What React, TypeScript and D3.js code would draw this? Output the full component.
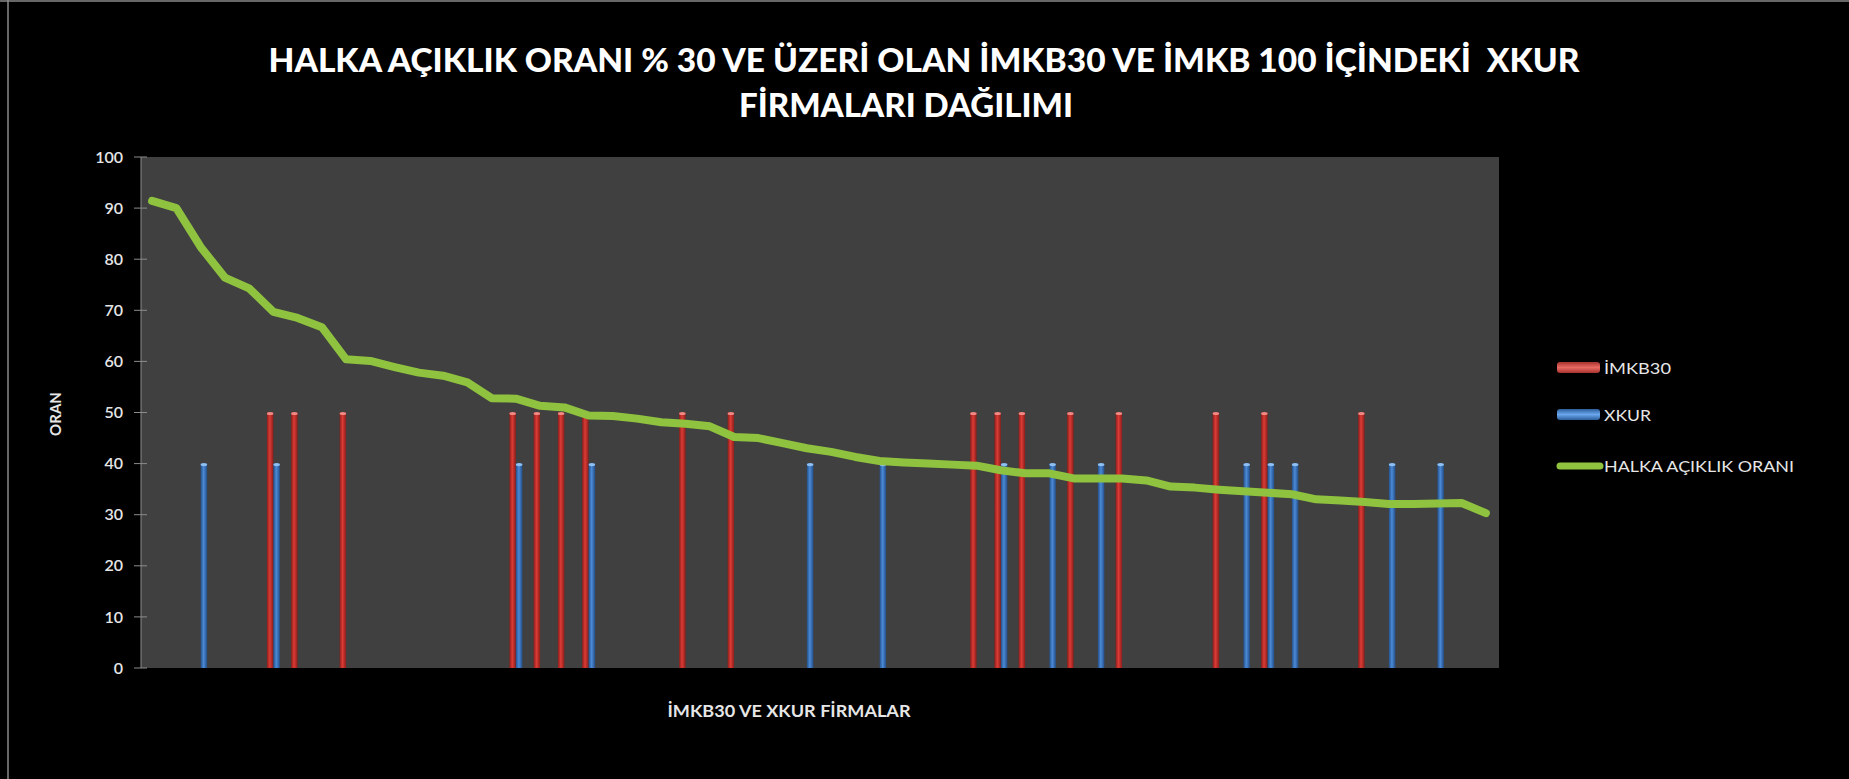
import * as d3 from "d3";

// categories (firms are unlabeled in the original chart)
const firms = d3.range(56).map(i => `F${i + 1}`);

// İMKB30 membership bars (50 = member)
const imkb30 = [
  0, 0, 0, 0, 0, 50, 50, 0, 50, 0,
  0, 0, 0, 0, 0, 50, 50, 50, 50, 0,
  0, 0, 50, 0, 50, 0, 0, 0, 0, 0,
  0, 0, 0, 0, 50, 50, 50, 0, 50, 0,
  50, 0, 0, 0, 50, 0, 50, 0, 0, 0,
  50, 0, 0, 0, 0, 0,
];

// XKUR membership bars (40 = member)
const xkur = [
  0, 0, 40, 0, 0, 40, 0, 0, 0, 0,
  0, 0, 0, 0, 0, 40, 0, 0, 40, 0,
  0, 0, 0, 0, 0, 0, 0, 40, 0, 0,
  40, 0, 0, 0, 0, 40, 0, 40, 0, 40,
  0, 0, 0, 0, 0, 40, 40, 40, 0, 0,
  0, 40, 0, 40, 0, 0,
];

// free float ratio (line)
const halkaAciklik = [
  91.4, 90.0, 82.4, 76.4, 74.3, 69.7, 68.5, 66.7, 60.4, 60.1,
  58.9, 57.8, 57.2, 55.9, 52.8, 52.7, 51.3, 51.0, 49.4, 49.3,
  48.8, 48.1, 47.8, 47.3, 45.2, 45.0, 44.0, 43.0, 42.3, 41.3,
  40.5, 40.2, 40.0, 39.8, 39.6, 38.7, 38.1, 38.1, 37.1, 37.1,
  37.1, 36.7, 35.5, 35.3, 34.9, 34.6, 34.3, 34.0, 33.0, 32.8,
  32.5, 32.1, 32.1, 32.2, 32.3, 30.3,
];

const yTicks = [0, 10, 20, 30, 40, 50, 60, 70, 80, 90, 100];
const seriesKeys = ["imkb30", "xkur"];
const legendLabels = ["İMKB30", "XKUR", "HALKA AÇIKLIK ORANI"];

const W = 1849;
const H = 779;
const FONT = "Lato, 'Open Sans', sans-serif";

export default function App() {
  const plot = { left: 141, right: 1499, top: 157, bottom: 668 };

  const x = d3.scaleBand<string>().domain(firms).range([plot.left - 1, plot.right - 1]).padding(0);
  const xInner = d3.scaleBand<string>().domain(seriesKeys).range([-6.5, 6.5]).padding(0);
  const y = d3.scaleLinear().domain([0, 100]).range([plot.bottom, plot.top]);

  const cx = (i: number) => (x(firms[i]) as number) + x.bandwidth() / 2;

  const line = d3
    .line<number>()
    .x((_, i) => cx(i))
    .y(d => y(d));

  const bars = (vals: number[], key: string, grad: string, cap: string) =>
    vals.map((v, i) => {
      if (!v) return null;
      const bx = cx(i) + (xInner(key) as number);
      const bw = xInner.bandwidth();
      return (
        <g key={`${key}-${i}`}>
          <rect x={bx} y={y(v)} width={bw} height={y(0) - y(v)} fill={`url(#${grad})`} />
          <ellipse cx={bx + bw / 2} cy={y(v) + 1} rx={bw / 2} ry={1.6} fill={cap} />
        </g>
      );
    });

  return (
    <svg
      width={W}
      height={H}
      style={{ position: "absolute", left: 0, top: 0, background: "#000" }}
    >
      <defs>
        <linearGradient id="redGrad" x1="0" x2="1" y1="0" y2="0">
          <stop offset="0" stopColor="#8a1e1b" />
          <stop offset="0.45" stopColor="#dc3b35" />
          <stop offset="1" stopColor="#8a1e1b" />
        </linearGradient>
        <linearGradient id="blueGrad" x1="0" x2="1" y1="0" y2="0">
          <stop offset="0" stopColor="#244f8a" />
          <stop offset="0.45" stopColor="#4b8ad6" />
          <stop offset="1" stopColor="#244f8a" />
        </linearGradient>
        <linearGradient id="redLeg" x1="0" x2="0" y1="0" y2="1">
          <stop offset="0" stopColor="#a8322e" />
          <stop offset="0.5" stopColor="#e86a62" />
          <stop offset="1" stopColor="#a8322e" />
        </linearGradient>
        <linearGradient id="blueLeg" x1="0" x2="0" y1="0" y2="1">
          <stop offset="0" stopColor="#2c5e9c" />
          <stop offset="0.5" stopColor="#6aa6ec" />
          <stop offset="1" stopColor="#2c5e9c" />
        </linearGradient>
      </defs>

      <rect x={0} y={0} width={W} height={H} fill="#000" />
      <line x1={8} x2={8} y1={0} y2={H} stroke="#8a8a8a" strokeWidth={1.5} />
      <line x1={0} x2={W} y1={1} y2={1} stroke="#8a8a8a" strokeWidth={1.5} />

      {/* title */}
      <text
        x={924}
        y={72}
        textAnchor="middle"
        fill="#fff"
        fontFamily={FONT}
        fontWeight="900"
        fontSize={33}
        textLength={1311}
        lengthAdjust="spacingAndGlyphs"
        style={{ whiteSpace: "pre" }}
      >
        {"HALKA AÇIKLIK ORANI % 30 VE ÜZERİ OLAN İMKB30 VE İMKB 100 İÇİNDEKİ  XKUR"}
      </text>
      <text
        x={906}
        y={117}
        textAnchor="middle"
        fill="#fff"
        fontFamily={FONT}
        fontWeight="900"
        fontSize={33}
        textLength={334}
        lengthAdjust="spacingAndGlyphs"
      >
        FİRMALARI DAĞILIMI
      </text>

      {/* plot area */}
      <rect
        x={plot.left}
        y={plot.top}
        width={plot.right - plot.left}
        height={plot.bottom - plot.top}
        fill="#404040"
      />
      <line x1={plot.left} x2={plot.left} y1={plot.top} y2={plot.bottom} stroke="#8c8c8c" />

      {/* y axis ticks and labels */}
      {yTicks.map(t => (
        <g key={t}>
          <line x1={plot.left - 7} x2={plot.left + 6} y1={y(t)} y2={y(t)} stroke="#8c8c8c" />
          <text
            x={123}
            y={y(t)}
            dy="0.35em"
            textAnchor="end"
            fill="#e6e6e6"
            fontFamily={FONT}
            fontWeight="600"
            fontSize={16}
          >
            {t}
          </text>
        </g>
      ))}

      <text
        transform={`translate(56,414) rotate(-90)`}
        textAnchor="middle"
        dy="0.35em"
        fill="#e6e6e6"
        fontFamily={FONT}
        fontWeight="bold"
        fontSize={15}
      >
        ORAN
      </text>

      {/* bars */}
      {bars(imkb30, "imkb30", "redGrad", "#f08a84")}
      {bars(xkur, "xkur", "blueGrad", "#8fc0f2")}

      {/* line */}
      <path
        d={line(halkaAciklik) || ""}
        fill="none"
        stroke="#8fc23f"
        strokeWidth={8}
        strokeLinejoin="round"
        strokeLinecap="round"
      />

      {/* x axis title */}
      <text
        x={789}
        y={717}
        textAnchor="middle"
        fill="#e6e6e6"
        fontFamily={FONT}
        fontWeight="bold"
        fontSize={17}
        textLength={243}
        lengthAdjust="spacingAndGlyphs"
      >
        İMKB30 VE XKUR FİRMALAR
      </text>

      {/* legend */}
      <rect x={1557} y={362} width={43} height={11} rx={3} fill="url(#redLeg)" />
      <rect x={1557} y={409} width={43} height={11} rx={3} fill="url(#blueLeg)" />
      <line x1={1560} x2={1600} y1={466} y2={466} stroke="#8fc23f" strokeWidth={7} strokeLinecap="round" />
      {legendLabels.map((l, i) => (
        <text
          key={l}
          x={1604}
          y={[368, 415, 466][i]}
          dy="0.35em"
          fill="#e6e6e6"
          fontFamily={FONT}
          fontSize={16}
          textLength={[67, 47, 190][i]}
          lengthAdjust="spacingAndGlyphs"
        >
          {l}
        </text>
      ))}
    </svg>
  );
}
